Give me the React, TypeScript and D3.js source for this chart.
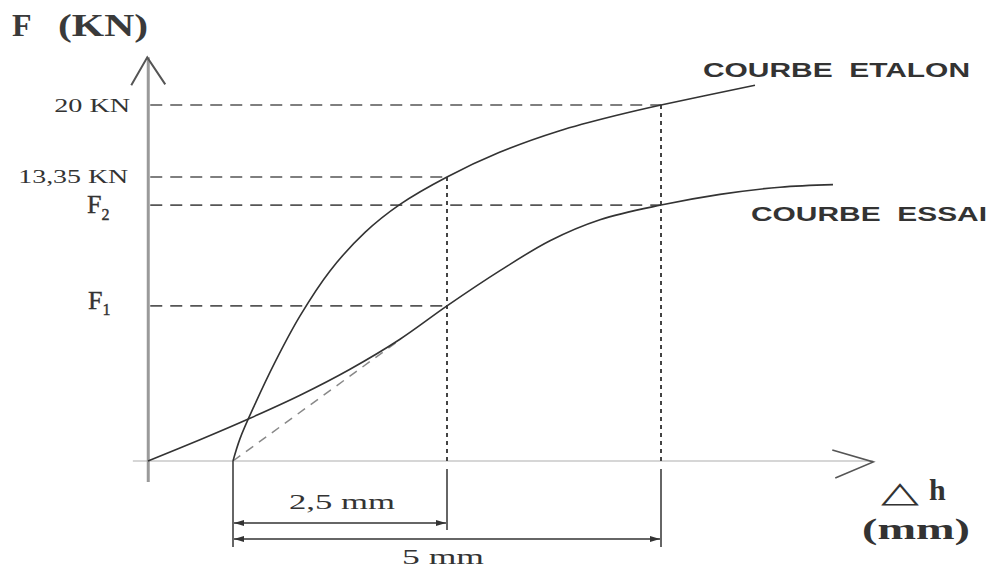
import React from "react";
import * as d3 from "d3";

// Force anchors (kN) for the schematic vertical scale
const forceAnchors = [0, 13.35, 20];
const forceLabels = ["20 KN", "13,35 KN"];
const levelF1 = 7.29;
const levelF2 = 12.03;

// Displacement (mm)
const dimValues = [2.5, 5];
const dimLabels = ["2,5 mm", "5 mm"];

// COURBE ETALON
const etalonX = [0, 0.082, 0.257, 0.491, 0.783, 1.133, 1.542, 1.951, 2.5, 3.107, 3.808, 4.509, 5, 6.098];
const etalonF = [0, 1.053, 2.675, 4.649, 6.821, 8.936, 10.746, 12.062, 13.35, 15.604, 17.599, 19.095, 20, 21.82];

// COURBE ESSAI
const essaiX = [-0.993, -0.386, 0.199, 0.783, 1.367, 1.951, 2.5, 3.119, 3.703, 4.287, 5, 5.689, 6.39, 7.009];
const essaiF = [0, 1.001, 2.012, 3.093, 4.315, 5.725, 7.29, 8.946, 10.356, 11.343, 12.03, 12.532, 12.871, 12.993];

// Tangent (dashed) at start of essai
const tangentX = [0, 1.951];
const tangentF = [0, 5.7];

// Axis extents
const xAxisExtent = [-1.17, 7.48];
const yAxisExtent = [-0.99, 24.4];
const yAxisAt = -0.99;

export default function App() {
  const W = 991, H = 569;
  const x = d3.scaleLinear().domain([0, 5]).range([233, 661]);
  const y = d3.scaleLinear().domain(forceAnchors).range([461, 177, 105]);

  const line = d3
    .line<[number, number]>()
    .x((d) => x(d[0]))
    .y((d) => y(d[1]))
    .curve(d3.curveCatmullRom.alpha(0.5));

  const etalon = etalonX.map((v, i) => [v, etalonF[i]] as [number, number]);
  const essai = essaiX.map((v, i) => [v, essaiF[i]] as [number, number]);
  const tangent = tangentX.map((v, i) => [v, tangentF[i]] as [number, number]);

  const ax = x(yAxisAt);
  const y0 = y(0);
  const ink = "#333";
  const serif = "'Liberation Serif', 'DejaVu Serif', serif";
  const sans = "'Liberation Sans', 'DejaVu Sans', sans-serif";

  const hLines = [
    { f: forceAnchors[2], to: dimValues[1] },
    { f: forceAnchors[1], to: dimValues[0] },
    { f: levelF2, to: dimValues[1] },
    { f: levelF1, to: dimValues[0] },
  ];

  const xTop = x(xAxisExtent[1]);
  const yTop = y(yAxisExtent[1]);

  return (
    <svg
      width={W}
      height={H}
      style={{ position: "absolute", left: 0, top: 0, background: "#fff" }}
    >
      <defs>
        <marker id="arrEnd" viewBox="0 0 10 6" refX="10" refY="3" markerWidth="10" markerHeight="6" markerUnits="userSpaceOnUse" orient="auto">
          <path d="M0,0 L10,3 L0,6 z" fill={ink} />
        </marker>
        <marker id="arrStart" viewBox="0 0 10 6" refX="0" refY="3" markerWidth="10" markerHeight="6" markerUnits="userSpaceOnUse" orient="auto">
          <path d="M10,0 L0,3 L10,6 z" fill={ink} />
        </marker>
      </defs>
      <rect width={W} height={H} fill="#fff" />

      {/* x axis */}
      <line x1={x(xAxisExtent[0])} x2={xTop} y1={y0} y2={y0} stroke="#c8c8c8" strokeWidth={1.5} />
      <polyline
        points={`${xTop - 41},${y0 - 11} ${xTop},${y0 + 1} ${xTop - 38},${y0 + 17}`}
        fill="none"
        stroke="#555"
        strokeWidth={1.6}
      />

      {/* y axis */}
      <line x1={ax} x2={ax} y1={y(yAxisExtent[0])} y2={yTop} stroke="#9a9a9a" strokeWidth={3} />
      <polyline
        points={`${ax - 17},${yTop + 28} ${ax - 1},${yTop} ${ax + 17},${yTop + 27}`}
        fill="none"
        stroke="#555"
        strokeWidth={2}
      />

      {/* horizontal dashed guides */}
      {hLines.map((h, i) => (
        <line
          key={"h" + i}
          x1={ax + 2}
          x2={x(h.to)}
          y1={y(h.f)}
          y2={y(h.f)}
          stroke="#555"
          strokeWidth={1.6}
          strokeDasharray="12 8"
        />
      ))}

      {/* vertical dotted guides */}
      <line x1={x(dimValues[0])} x2={x(dimValues[0])} y1={y(forceAnchors[1])} y2={y0} stroke="#444" strokeWidth={2} strokeDasharray="4 4" />
      <line x1={x(dimValues[1])} x2={x(dimValues[1])} y1={y(forceAnchors[2])} y2={y0} stroke="#444" strokeWidth={2} strokeDasharray="4 4" />

      {/* dimension extension lines */}
      <line x1={x(0)} x2={x(0)} y1={y0} y2={y0 + 86} stroke={ink} strokeWidth={1.5} />
      <line x1={x(dimValues[0])} x2={x(dimValues[0])} y1={y0 + 8} y2={y0 + 69} stroke={ink} strokeWidth={1.5} />
      <line x1={x(dimValues[1])} x2={x(dimValues[1])} y1={y0 + 8} y2={y0 + 86} stroke={ink} strokeWidth={1.5} />

      {/* dimension arrows */}
      <line x1={x(0) + 1} x2={x(dimValues[0]) - 1} y1={y0 + 62} y2={y0 + 62} stroke={ink} strokeWidth={1.5} markerStart="url(#arrStart)" markerEnd="url(#arrEnd)" />
      <line x1={x(0) + 1} x2={x(dimValues[1]) - 1} y1={y0 + 78} y2={y0 + 78} stroke={ink} strokeWidth={1.5} markerStart="url(#arrStart)" markerEnd="url(#arrEnd)" />

      <text x={(x(0) + x(dimValues[0])) / 2 + 2} y={y0 + 48} textAnchor="middle" fontFamily={serif} fontSize={22} fill={ink} textLength={106} lengthAdjust="spacingAndGlyphs">
        {dimLabels[0]}
      </text>
      <text x={443} y={y0 + 103} textAnchor="middle" fontFamily={serif} fontSize={22} fill={ink} textLength={82} lengthAdjust="spacingAndGlyphs">
        {dimLabels[1]}
      </text>

      {/* tangent */}
      <path d={line(tangent) || ""} fill="none" stroke="#888" strokeWidth={1.5} strokeDasharray="9 7" />

      {/* curves */}
      <path d={line(etalon) || ""} fill="none" stroke={ink} strokeWidth={1.6} />
      <path d={line(essai) || ""} fill="none" stroke={ink} strokeWidth={1.6} />

      {/* y labels */}
      <text x={ax - 18} y={y(forceAnchors[2]) + 7} textAnchor="end" fontFamily={serif} fontSize={19} fill={ink} textLength={76} lengthAdjust="spacingAndGlyphs">
        {forceLabels[0]}
      </text>
      <text x={ax - 20} y={y(forceAnchors[1]) + 6} textAnchor="end" fontFamily={serif} fontSize={19} fill={ink} textLength={110} lengthAdjust="spacingAndGlyphs">
        {forceLabels[1]}
      </text>
      <text x={87} y={y(levelF2) + 8} fontFamily={serif} fontSize={26} fill={ink} stroke={ink} strokeWidth={0.4}>
        F<tspan dy={7} fontSize={16}>2</tspan>
      </text>
      <text x={88} y={y(levelF1) + 3} fontFamily={serif} fontSize={26} fill={ink} stroke={ink} strokeWidth={0.4}>
        F<tspan dy={6} fontSize={16}>1</tspan>
      </text>

      {/* axis titles */}
      <text x={12} y={36} fontFamily={serif} fontWeight="bold" fontSize={32} fill="#3a3a3a">
        F
      </text>
      <text x={58} y={36} fontFamily={serif} fontWeight="bold" fontSize={32} fill="#3a3a3a" textLength={90} lengthAdjust="spacingAndGlyphs">
        (KN)
      </text>
      <text x={881} y={502} fontFamily="'DejaVu Sans', sans-serif" fontSize={29} fill={ink} textLength={38} lengthAdjust="spacingAndGlyphs">
        {"\u25B3"}
      </text>
      <text x={929} y={500} fontFamily={serif} fontWeight="bold" fontSize={30} fill={ink}>
        h
      </text>
      <text x={916} y={539} textAnchor="middle" fontFamily={serif} fontWeight="bold" fontSize={30} fill={ink} textLength={108} lengthAdjust="spacingAndGlyphs">
        (mm)
      </text>

      {/* curve labels */}
      <text x={703} y={77} fontFamily={sans} fontWeight="bold" fontSize={21} fill={ink} textLength={267} lengthAdjust="spacingAndGlyphs" style={{ whiteSpace: "pre" }}>
        {"COURBE  ETALON"}
      </text>
      <text x={751} y={221} fontFamily={sans} fontWeight="bold" fontSize={21} fill={ink} textLength={236} lengthAdjust="spacingAndGlyphs" style={{ whiteSpace: "pre" }}>
        {"COURBE  ESSAI"}
      </text>
    </svg>
  );
}
